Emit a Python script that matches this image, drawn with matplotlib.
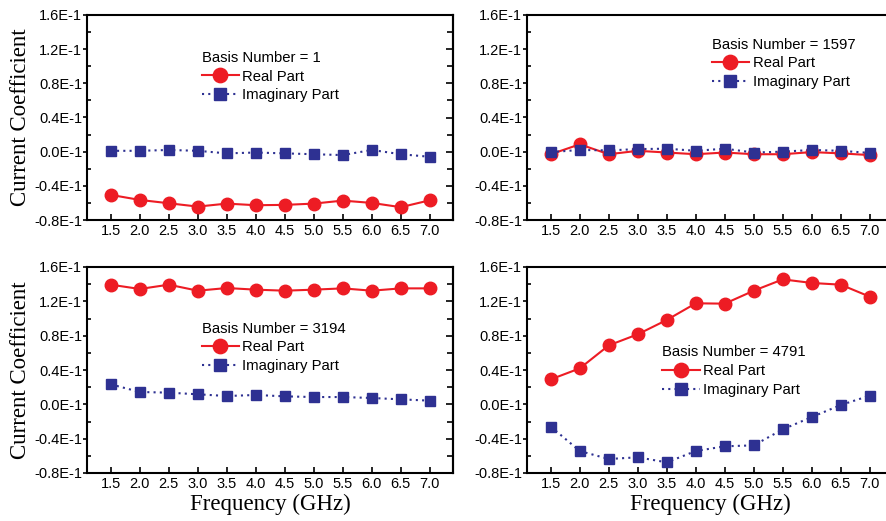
import matplotlib
matplotlib.use("Agg")
import matplotlib.pyplot as plt
from matplotlib.ticker import MultipleLocator

freq = [1.5, 2.0, 2.5, 3.0, 3.5, 4.0, 4.5, 5.0, 5.5, 6.0, 6.5, 7.0]
x_tick_labels = ["1.5", "2.0", "2.5", "3.0", "3.5", "4.0", "4.5", "5.0", "5.5", "6.0", "6.5", "7.0"]
y_ticks = [-0.08, -0.04, 0.0, 0.04, 0.08, 0.12, 0.16]
y_tick_labels = ["-0.8E-1", "-0.4E-1", "0.0E-1", "0.4E-1", "0.8E-1", "1.2E-1", "1.6E-1"]

basis_numbers = [1, 1597, 3194, 4791]

real_b1 = [-0.0506, -0.0565, -0.0604, -0.0643, -0.0608, -0.0627, -0.0623, -0.0608, -0.0573, -0.0600, -0.0650, -0.0569]
imag_b1 = [0.001, 0.001, 0.002, 0.001, -0.002, -0.001, -0.002, -0.003, -0.004, 0.002, -0.003, -0.006]

real_b1597 = [-0.003, 0.0086, -0.003, 0.001, -0.001, -0.003, -0.001, -0.003, -0.003, -0.0005, -0.002, -0.004]
imag_b1597 = [-0.0005, 0.002, 0.0015, 0.003, 0.0035, 0.001, 0.0035, -0.001, 0.0, 0.002, 0.001, -0.0015]

real_b3194 = [0.1394, 0.1344, 0.1394, 0.1324, 0.1355, 0.1336, 0.1324, 0.1336, 0.1351, 0.1324, 0.1351, 0.1351]
imag_b3194 = [0.0233, 0.0144, 0.0136, 0.0117, 0.0097, 0.0109, 0.0093, 0.0085, 0.0085, 0.0074, 0.0058, 0.0043]

real_b4791 = [0.0291, 0.0419, 0.0687, 0.0816, 0.0983, 0.1177, 0.1173, 0.1324, 0.1456, 0.1414, 0.1394, 0.1254]
imag_b4791 = [-0.0260, -0.0544, -0.0637, -0.0617, -0.0676, -0.0544, -0.0489, -0.0478, -0.0291, -0.0148, -0.0008, 0.0101]

reals = [real_b1, real_b1597, real_b3194, real_b4791]
imags = [imag_b1, imag_b1597, imag_b3194, imag_b4791]

RED = "#ED1C24"
BLUE = "#2E3192"

W, H = 886, 521
fig = plt.figure(figsize=(W / 100, H / 100), dpi=100)

# axes boxes in pixels: (left, top, right, bottom)
boxes = [(87, 15, 453, 220), (527, 15, 893, 220), (87, 267, 453, 473), (527, 267, 893, 473)]
legend_anchor = [(0.313, 0.825), (0.505, 0.89), (0.313, 0.735), (0.370, 0.62)]

sans = "Liberation Sans"
serif = "Liberation Serif"

for i, (l, t, r, b) in enumerate(boxes):
    ax = fig.add_axes([l / W, 1 - b / H, (r - l) / W, (b - t) / H])
    ax.plot(freq, reals[i], color=RED, lw=1.5, ls="-", marker="o", ms=9,
            mec=RED, mfc=RED, label="Real Part", zorder=3)
    ax.plot(freq, imags[i], color=BLUE, lw=1.5, ls=(0, (1, 2)), marker="s", ms=7,
            mec=BLUE, mfc=BLUE, label="Imaginary Part", zorder=3)
    ax.set_xlim(1.09, 7.4)
    ax.set_ylim(-0.08, 0.16)
    ax.set_xticks(freq)
    ax.set_xticklabels(x_tick_labels, fontfamily=sans, fontsize=10.5)
    ax.set_yticks(y_ticks)
    ax.set_yticklabels(y_tick_labels, fontfamily=sans, fontsize=10.5)
    ax.yaxis.set_minor_locator(MultipleLocator(0.02))
    ax.tick_params(axis="x", which="major", direction="in", length=4, width=1.2, pad=3, top=False)
    ax.tick_params(axis="y", which="major", direction="out", length=3, width=1.2, pad=0.5)
    ax.tick_params(axis="y", which="minor", direction="in", length=3, width=1.2)
    for s in ax.spines.values():
        s.set_linewidth(1.5)
    sec = ax.secondary_yaxis("right")
    sec.set_yticks(y_ticks)
    sec.yaxis.set_minor_locator(MultipleLocator(0.02))
    sec.tick_params(which="major", direction="in", length=5, width=1.2, labelright=False)
    sec.tick_params(which="minor", direction="in", length=4, width=1.2, labelright=False)
    sec.spines["right"].set_linewidth(1.5)

    leg = ax.legend(loc="upper left", bbox_to_anchor=legend_anchor[i], frameon=False,
                    title="Basis Number = %d" % basis_numbers[i], alignment="left",
                    prop={"family": sans, "size": 10.7}, title_fontproperties={"family": sans, "size": 10.7},
                    handlelength=2.5, handletextpad=0.25, labelspacing=0.32, borderpad=0,
                    borderaxespad=0, markerscale=1.15)

    if i in (0, 2):
        ax.set_ylabel("Current Coefficient", fontfamily=serif, fontsize=16.5, labelpad=2)
    if i in (2, 3):
        ax.set_xlabel("Frequency (GHz)", fontfamily=serif, fontsize=16.5, labelpad=2)

fig.savefig("out.png", dpi=100)
